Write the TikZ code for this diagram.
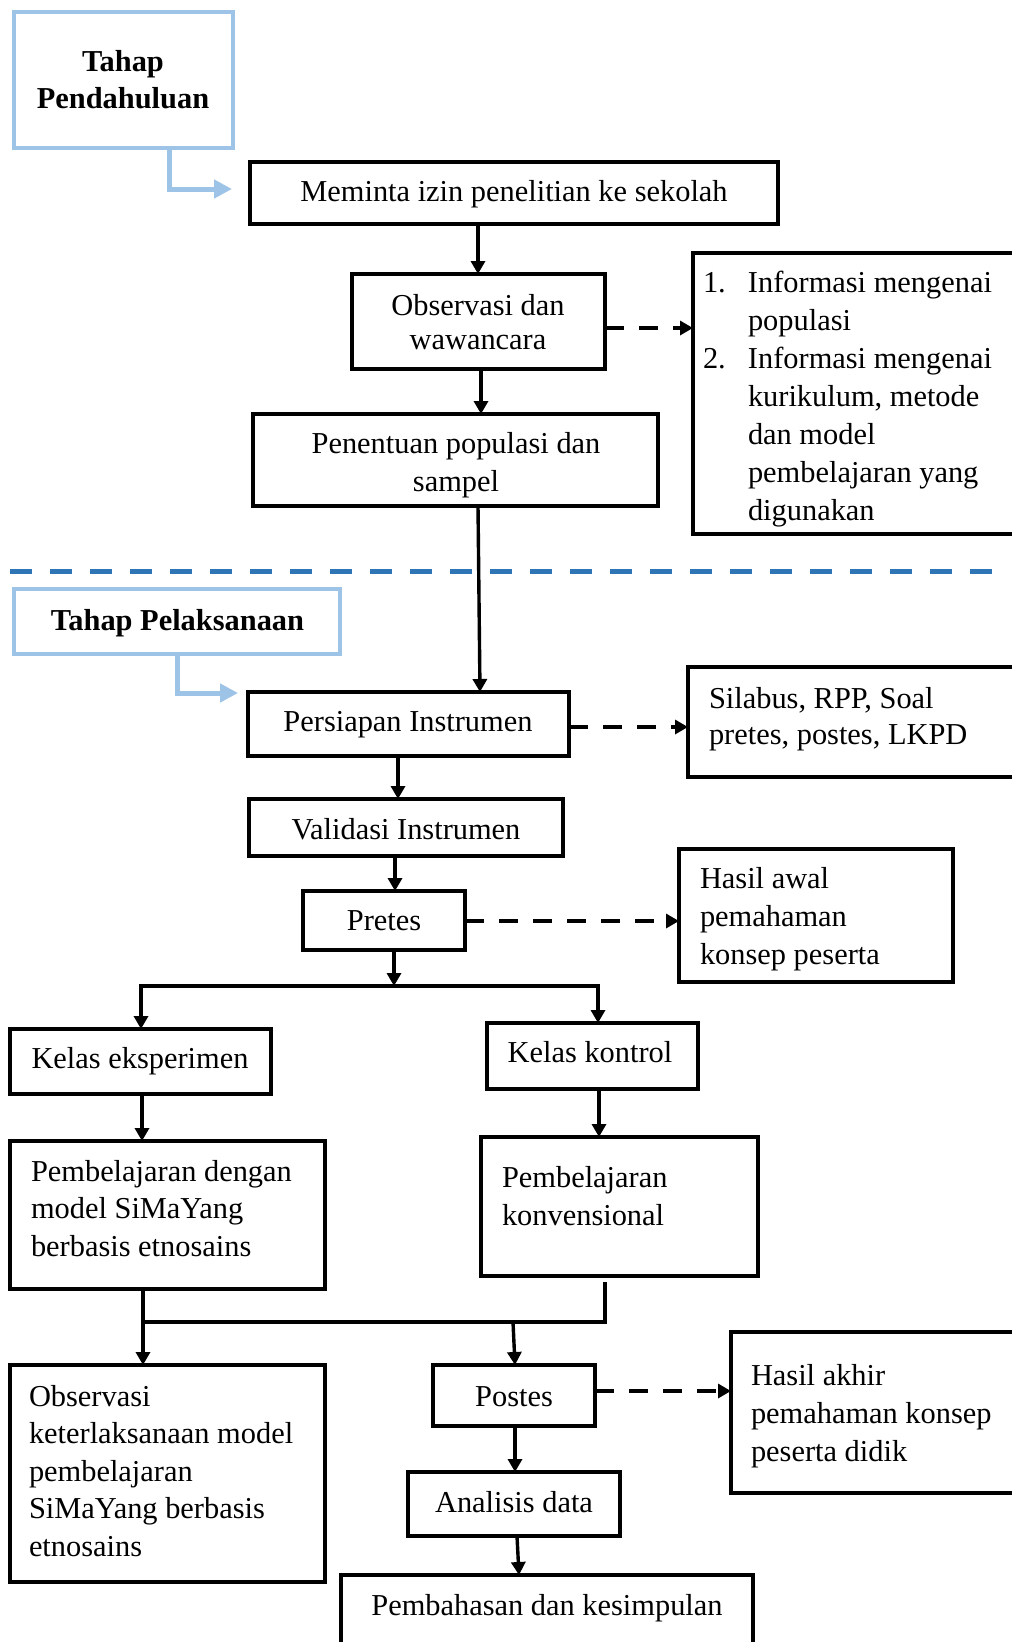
\documentclass[tikz,border=0pt]{standalone}
\usepackage{fontspec}
\setmainfont{Liberation Serif}
\usetikzlibrary{arrows.meta}
\definecolor{lblue}{HTML}{9DC3E6}
\definecolor{dblue}{HTML}{2E75B6}
\newcommand\mkbox[6][box]{\node[#1, minimum width={#5-#3}, minimum height={#6-#4}] (#2) at ({(#3+#5)/2},{(#4+#6)/2}) {};}
\begin{document}
\begin{tikzpicture}[x=1pt,y=-1pt,
  box/.style={draw, line width=3.6pt, inner sep=0pt, outer sep=0pt, rectangle},
  bbox/.style={draw=lblue, line width=4.5pt, inner sep=0pt, outer sep=0pt, rectangle},
  txt/.style={inner sep=0pt, outer sep=0pt, font=\fontsize{30.4}{37.5}\selectfont},
  txtb/.style={inner sep=0pt, outer sep=0pt, font=\fontsize{30.4}{37}\selectfont\bfseries},
  arr/.style={line width=3.4pt, -{Triangle[length=13pt,width=14pt]}},
  darr/.style={arr, dash pattern=on 19pt off 15pt},
  barr/.style={draw=lblue, line width=5pt, -{Triangle[length=18pt,width=18pt]}},
  ln/.style={line width=3.4pt}]
\useasboundingbox (0,0) rectangle (1012,1642);
\clip (0,0) rectangle (1012,1642);
\fill[white] (0,0) rectangle (1012,1642);

% Tahap Pendahuluan
\mkbox[bbox]{tp}{14}{12}{233}{148}
\node[txtb, align=center, anchor=base] (tpt) at (123,108) {Tahap\\Pendahuluan};
\coordinate (tpe) at (232,189);
\draw[barr] (tp.south -| 169,0) |- (tpe);

\mkbox{mem}{250}{162}{778}{224}
\node[txt, anchor=base] (memt) at (514,201) {Meminta izin penelitian ke sekolah};

\mkbox{obs}{352}{274}{605}{369}
\node[txt, align=center, anchor=base, font=\fontsize{30.4}{34}\selectfont] (obst) at (478,349) {Observasi dan\\wawancara};

\mkbox{lst}{693}{253}{1030}{534}
\node[txt, align=left, anchor=base west, font=\fontsize{30.4}{38}\selectfont] (lstt) at (703,520)
 {\makebox[45pt][l]{1.}Informasi mengenai\\
  \hspace*{45pt}populasi\\
  \makebox[45pt][l]{2.}Informasi mengenai\\
  \hspace*{45pt}kurikulum, metode\\
  \hspace*{45pt}dan model\\
  \hspace*{45pt}pembelajaran yang\\
  \hspace*{45pt}digunakan};

\mkbox{pen}{253}{414}{658}{506}
\node[txt, align=center, anchor=base, font=\fontsize{30.4}{38}\selectfont] (pent) at (456,491) {Penentuan populasi dan\\sampel};

\draw[arr] (mem.south -| 478,0) -- (obs.north -| 478,0);
\draw[darr] (obs.east |- 0,328) -- (lst.west |- 0,328);
\draw[arr] (obs.south -| 481,0) -- (pen.north -| 481,0);

% separator
\draw[dblue, line width=5pt, dash pattern=on 22pt off 18pt] (10,571) -- (995,571);

% Tahap Pelaksanaan
\mkbox[bbox]{tpl}{14}{589}{340}{654}
\node[txtb, anchor=base] (tplt) at (177.5,630) {Tahap Pelaksanaan};
\coordinate (tple) at (238,693);
\draw[barr] (tpl.south -| 177,0) |- (tple);

\mkbox{per}{248}{692}{569}{756}
\node[txt, anchor=base] (pert) at (408,731) {Persiapan Instrumen};
\draw[arr] (pen.south -| 478,0) -- (per.north -| 480,0);

\mkbox{sil}{688}{667}{1030}{777}
\node[txt, align=left, anchor=base west, font=\fontsize{30.4}{36}\selectfont] (silt) at (709,744) {Silabus, RPP, Soal\\pretes, postes, LKPD};
\draw[darr] (per.east |- 0,727) -- (sil.west |- 0,727);

\mkbox{val}{249}{799}{563}{856}
\node[txt, anchor=base] (valt) at (406,839) {Validasi Instrumen};
\draw[arr] (per.south -| 398,0) -- (val.north -| 398,0);

\mkbox{pre}{303}{891}{465}{950}
\node[txt, anchor=base] (pret) at (384,930) {Pretes};
\draw[arr] (val.south -| 395,0) -- (pre.north -| 395,0);

\mkbox{haw}{679}{849}{953}{982}
\node[txt, align=left, anchor=base west, font=\fontsize{30.4}{38}\selectfont] (hawt) at (700,964) {Hasil awal\\pemahaman\\konsep peserta};
\draw[darr] (pre.east |- 0,921) -- (haw.west |- 0,921);

\mkbox{kek}{10}{1029}{271}{1094}
\node[txt, anchor=base] (kekt) at (140,1068) {Kelas eksperimen};
\mkbox{kko}{487}{1023}{698}{1089}
\node[txt, anchor=base] (kkot) at (590,1062) {Kelas kontrol};

\coordinate (j1) at (394,986);
\draw[arr] (pre.south -| 394,0) -- (j1);
\draw[arr] (j1) -| (kek.north -| 141,0);
\draw[arr] (j1) -| (kko.north -| 598,0);

\mkbox{pd}{10}{1141}{325}{1289}
\node[txt, align=left, anchor=base west] (pdt) at (31,1256) {Pembelajaran dengan\\model SiMaYang\\berbasis etnosains};
\mkbox{pk}{481}{1137}{758}{1276}
\node[txt, align=left, anchor=base west] (pkt) at (502,1225) {Pembelajaran\\konvensional};
\draw[arr] (kek.south -| 142,0) -- (pd.north -| 142,0);
\draw[arr] (kko.south -| 599,0) -- (pk.north -| 599,0);

\mkbox{obk}{10}{1365}{325}{1582}
\node[txt, align=left, anchor=base west] (obkt) at (29,1556) {Observasi\\keterlaksanaan model\\pembelajaran\\SiMaYang berbasis\\etnosains};
\mkbox{pos}{433}{1365}{595}{1426}
\node[txt, anchor=base] (post) at (514,1406) {Postes};

\coordinate (pkb) at (605,1282);
\coordinate (m1) at (143,1322);
\coordinate (m2) at (605,1322);
\coordinate (m3) at (513,1322);
\draw[ln] (pkb) -- (m2) -- (m1);
\draw[arr] (pd.south -| 143,0) -- (obk.north -| 143,0);
\draw[arr] (m3) -- (pos.north -| 515,0);

\mkbox{hak}{731}{1332}{1030}{1493}
\node[txt, align=left, anchor=base west, font=\fontsize{30.4}{38}\selectfont] (hakt) at (751,1461) {Hasil akhir\\pemahaman konsep\\peserta didik};
\draw[darr] (pos.east |- 0,1391) -- (hak.west |- 0,1391);

\mkbox{ana}{408}{1472}{620}{1536}
\node[txt, anchor=base] (anat) at (514,1512) {Analisis data};
\draw[arr] (pos.south -| 515,0) -- (ana.north -| 515,0);

\mkbox{pem}{341}{1575}{753}{1670}
\node[txt, anchor=base] (pemt) at (547,1615) {Pembahasan dan kesimpulan};
\draw[arr] (ana.south -| 517,0) -- (pem.north -| 519,0);
\end{tikzpicture}
\end{document}
